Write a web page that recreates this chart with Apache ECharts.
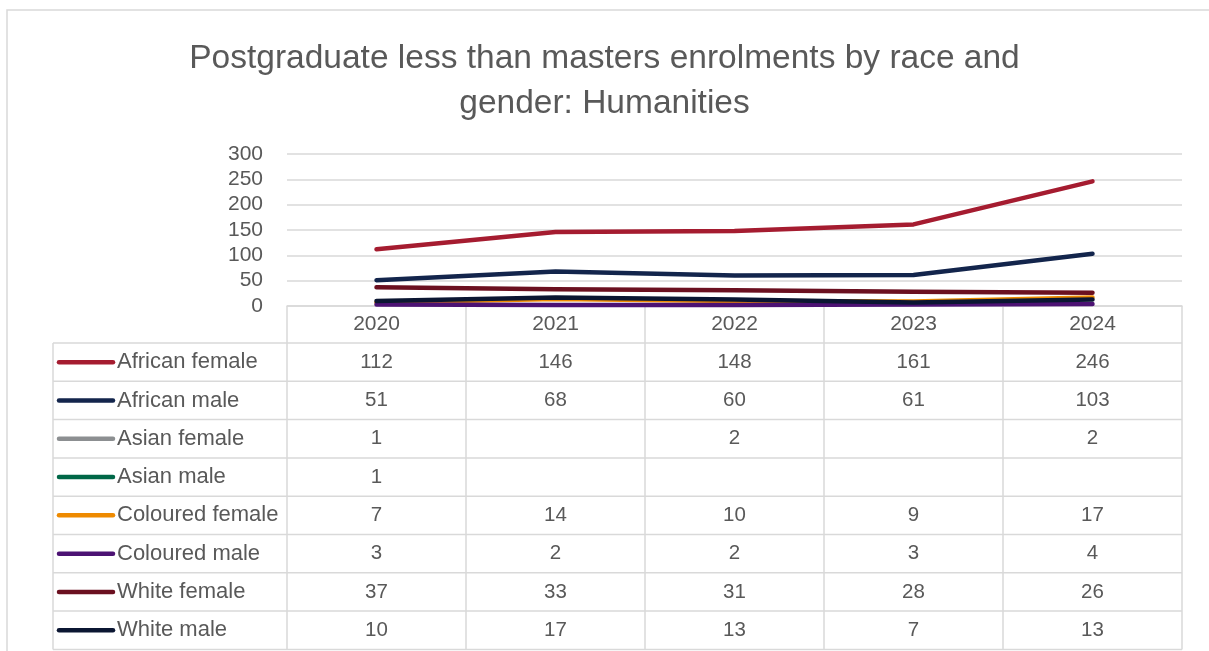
<!DOCTYPE html>
<html>
<head>
<meta charset="utf-8">
<script src="https://cdn.jsdelivr.net/npm/echarts@6/dist/echarts.min.js"></script>
<style>
html, body { margin: 0; padding: 0; background: #ffffff; }
#chart { width: 1209px; height: 651px; }
</style>
</head>
<body>
<div id="chart"></div>
<script>
// Categories and tick labels
const years = ['2020', '2021', '2022', '2023', '2024'];
const yTicks = [0, 50, 100, 150, 200, 250, 300];

// Series names (also the data-table row labels)
const seriesNames = ['African female', 'African male', 'Asian female', 'Asian male',
  'Coloured female', 'Coloured male', 'White female', 'White male'];

// Enrolment counts per year (null = no enrolments recorded)
const africanFemale  = [112, 146, 148, 161, 246];
const africanMale    = [51, 68, 60, 61, 103];
const asianFemale    = [1, null, 2, null, 2];
const asianMale      = [1, null, null, null, null];
const colouredFemale = [7, 14, 10, 9, 17];
const colouredMale   = [3, 2, 2, 3, 4];
const whiteFemale    = [37, 33, 31, 28, 26];
const whiteMale      = [10, 17, 13, 7, 13];

const seriesValues = [africanFemale, africanMale, asianFemale, asianMale,
  colouredFemale, colouredMale, whiteFemale, whiteMale];

const seriesColors = ['#A51C30', '#13254C', '#8C8F91', '#006747',
  '#EE8A00', '#4C1273', '#6B1020', '#0B1632'];

const FONT = "'Liberation Sans', Arial, sans-serif";
const TEXT = '#595959';
const RULE = '#d9d9d9';

const chart = echarts.init(document.getElementById('chart'), null, { renderer: 'canvas' });

chart.setOption({
  backgroundColor: '#ffffff',
  animation: false,
  title: {
    text: 'Postgraduate less than masters enrolments by race and\ngender: Humanities',
    left: 'center',
    top: 31,
    textStyle: { fontFamily: FONT, fontSize: 33.5, fontWeight: 'normal', color: TEXT, lineHeight: 45 }
  },
  grid: { left: 287, right: 27, top: 154, bottom: 345, containLabel: false },
  xAxis: {
    type: 'category',
    data: years,
    boundaryGap: true,
    axisLine: { show: true, lineStyle: { color: RULE, width: 1.5 } },
    axisTick: { show: true, length: 37, lineStyle: { color: RULE, width: 1.5 } },
    axisLabel: { margin: 8, fontFamily: FONT, fontSize: 21, color: TEXT }
  },
  yAxis: {
    type: 'value',
    min: yTicks[0],
    max: yTicks[yTicks.length - 1],
    interval: yTicks[1] - yTicks[0],
    axisLine: { show: false },
    axisTick: { show: false },
    splitLine: { lineStyle: { color: RULE, width: 1.5 } },
    axisLabel: { margin: 24, fontFamily: FONT, fontSize: 21, color: TEXT }
  },
  series: seriesNames.map((name, i) => ({
    name: name,
    type: 'line',
    data: seriesValues[i],
    showSymbol: false,
    symbol: 'none',
    connectNulls: false,
    lineStyle: { color: seriesColors[i], width: 4.5, cap: 'round', join: 'round' },
    itemStyle: { color: seriesColors[i] },
    z: 2 + i
  }))
});

// Data table beneath the plot, aligned to the category axis
function buildTable() {
  const xs = years.map(y => chart.convertToPixel({ xAxisIndex: 0 }, y));
  const band = xs[1] - xs[0];
  const colLeft = xs[0] - band / 2;
  const colRight = xs[xs.length - 1] + band / 2;
  const y0 = chart.convertToPixel({ yAxisIndex: 0 }, 0);
  const headerH = 37;
  const rowH = 38.3;
  const tableTop = y0 + headerH;
  const tableBottom = tableTop + rowH * seriesNames.length;
  const tableLeft = 53;

  const g = [];
  // chart frame
  g.push({ type: 'rect', shape: { x: 7, y: 10, width: 1400, height: 800 },
    style: { fill: 'none', stroke: RULE, lineWidth: 1.5 }, silent: true, z: 0 });

  // horizontal rules
  for (let r = 0; r <= seriesNames.length; r++) {
    const y = tableTop + r * rowH;
    g.push({ type: 'line', shape: { x1: tableLeft, y1: y, x2: colRight, y2: y },
      style: { stroke: RULE, lineWidth: 1.5 }, silent: true });
  }
  // vertical rules
  const vx = [tableLeft, colLeft].concat(xs.map(x => x + band / 2));
  vx.forEach(x => {
    g.push({ type: 'line', shape: { x1: x, y1: tableTop, x2: x, y2: tableBottom },
      style: { stroke: RULE, lineWidth: 1.5 }, silent: true });
  });

  seriesNames.forEach((name, r) => {
    const cy = tableTop + r * rowH + rowH / 2;
    // legend key
    g.push({ type: 'line', shape: { x1: 59, y1: cy, x2: 113, y2: cy },
      style: { stroke: seriesColors[r], lineWidth: 4.5, lineCap: 'round' }, silent: true });
    g.push({ type: 'text', x: 117, y: cy,
      style: { text: name, fontFamily: FONT, fontSize: 22, fill: TEXT,
        textAlign: 'left', textVerticalAlign: 'middle' }, silent: true });
    seriesValues[r].forEach((v, c) => {
      if (v === null) return;
      g.push({ type: 'text', x: xs[c], y: cy,
        style: { text: String(v), fontFamily: FONT, fontSize: 20.5, fill: TEXT,
          textAlign: 'center', textVerticalAlign: 'middle' }, silent: true });
    });
  });

  chart.setOption({ graphic: g });
}

buildTable();
</script>
</body>
</html>
